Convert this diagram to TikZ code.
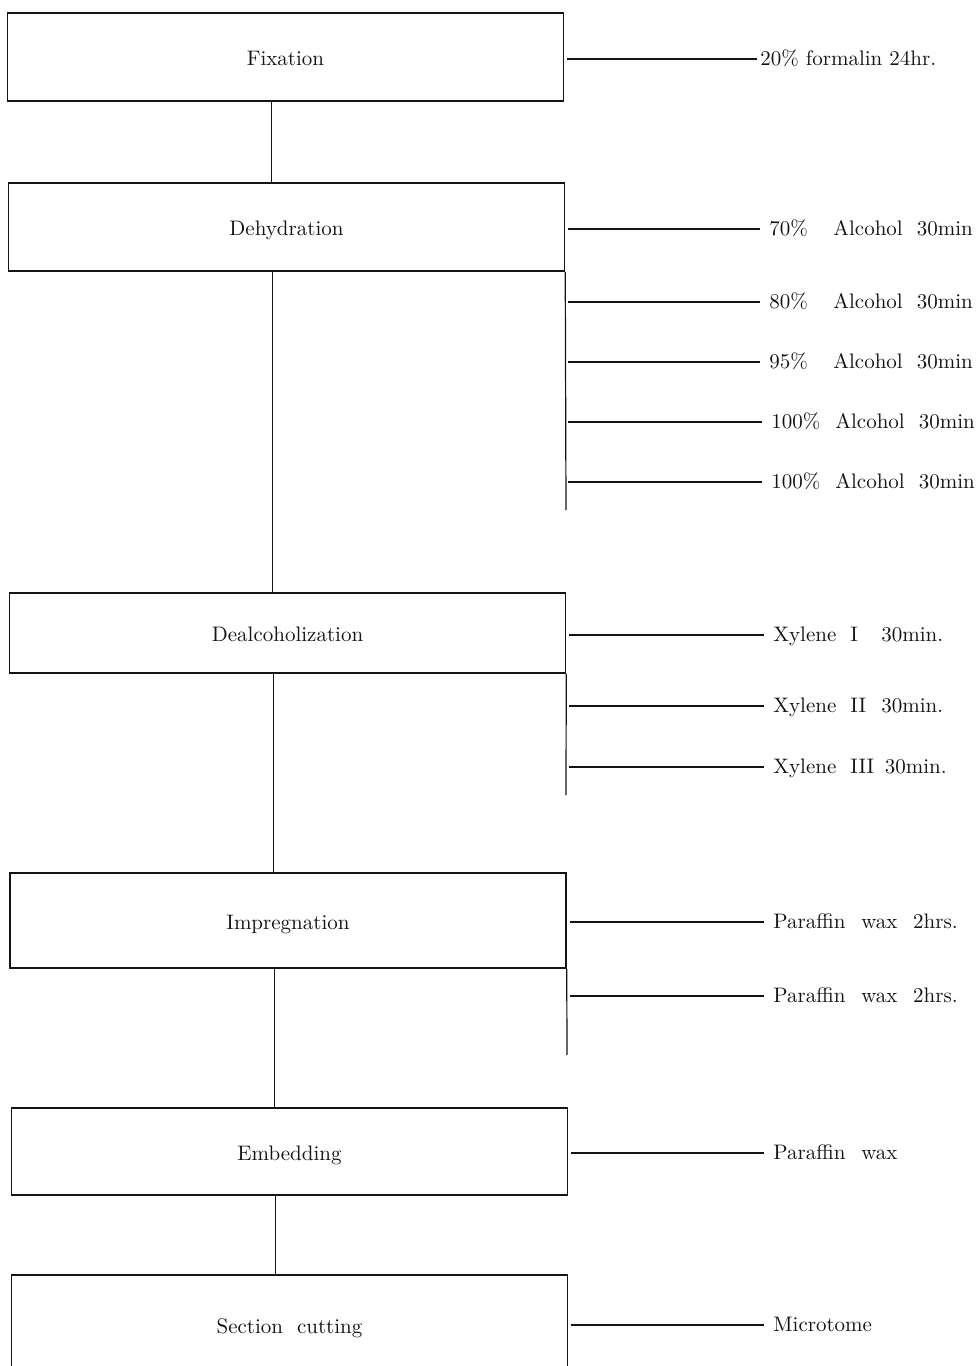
\documentclass[tikz,border=0pt]{standalone}
\usetikzlibrary{positioning,calc}
\definecolor{ink}{HTML}{141414}
\newcommand\pctcol[1]{\makebox[32pt][l]{#1}}
\newcommand\xylcol[1]{\makebox[15.5pt][l]{#1}}
\tikzset{
  stagebox/.style={draw=ink,line width=0.75pt,minimum width=278pt,
    font=\fontsize{10.5}{12}\selectfont,text=ink,inner sep=0pt,
    text height=2ex,text depth=0pt},
  reag/.style={anchor=west,font=\fontsize{10.5}{12}\selectfont,text=ink,
    inner xsep=4.5pt,inner ysep=0pt,text height=1.6ex,text depth=0pt},
  flow/.style={draw=ink,line width=0.5pt},
  branch/.style={draw=ink,line width=0.6pt,shorten <=1.5pt},
  rail/.style={draw=ink,line width=0.6pt}}
\begin{document}
\begin{tikzpicture}[x=0.5pt,y=-0.5pt]
\useasboundingbox (0,0) rectangle (979,1366);
% stages
\node[stagebox,minimum height=44pt] (fix) at (285.5,57) {Fixation};
\node[stagebox,minimum height=44pt] (dehyd) at (286.5,227) {Dehydration};
\node[stagebox,minimum height=40pt] (dealc) at (287.5,633) {Dealcoholization};
\node[stagebox,minimum height=47.5pt] (impreg) at (288,920.5) {Impregnation};
\node[stagebox,minimum height=43.5pt] (embed) at (289.5,1151.5) {Embedding};
\node[stagebox,minimum height=50pt] (cut) at (289.5,1325) {Section\ \ cutting};
\draw[flow] ([xshift=-7.25pt]fix.south) -- ([xshift=-7.25pt]fix.south |- dehyd.north);
\draw[flow] ([xshift=-7.25pt]dehyd.south) -- ([xshift=-7.25pt]dehyd.south |- dealc.north);
\draw[flow] ([xshift=-7.25pt]dealc.south) -- ([xshift=-7.25pt]dealc.south |- impreg.north);
\draw[flow] ([xshift=-7pt]impreg.south) -- ([xshift=-7pt]impreg.south |- embed.north);
\draw[flow] ([xshift=-7.25pt]embed.south) -- ([xshift=-7.25pt]embed.south |- cut.north);
% reagents
\node[reag,inner xsep=1.5pt] (r20) at (757,59) {20\%\ formalin\ 24hr.};
\node[reag] (a70) at (760,229) {\pctcol{70\%}Alcohol\ \ 30min};
\node[reag] (a80) at (760,302) {\pctcol{80\%}Alcohol\ \ 30min};
\node[reag] (a95) at (760,362) {\pctcol{95\%}Alcohol\ \ 30min};
\node[reag] (a100a) at (762,422) {\pctcol{100\%}Alcohol\ \ 30min};
\node[reag] (a100b) at (762,482) {\pctcol{100\%}Alcohol\ \ 30min};
\node[reag] (x1) at (764,635) {Xylene\ \ \xylcol{I}30min.};
\node[reag] (x2) at (764,706) {Xylene\ \ \xylcol{II}30min.};
\node[reag] (x3) at (764,767) {Xylene\ \ \xylcol{III}\,30min.};
\node[reag] (p1) at (764,922) {Paraffin\hspace{0.75em}wax\hspace{0.75em}2hrs.};
\node[reag] (p2) at (764,996) {Paraffin\hspace{0.75em}wax\hspace{0.75em}2hrs.};
\node[reag] (pw) at (764,1153) {Paraffin\hspace{0.75em}wax};
\node[reag] (mt) at (764,1325) {Microtome};
% rails on the right side
\coordinate (dehydEnd) at (566,510);
\coordinate (dealcEnd) at (566,795);
\coordinate (impregEnd) at (567,1055);
\draw[rail] (dehyd.south east) -- (dehydEnd);
\draw[rail] (dealc.south east) -- (dealcEnd);
\draw[rail] (impreg.south east) -- (impregEnd);
% branches
\draw[branch] (fix.east |- r20.west) -- (r20.west);
\draw[branch] (dehyd.east |- a70.west) -- (a70.west);
\draw[branch] (dehyd.east |- a80.west) -- (a80.west);
\draw[branch] (dehyd.east |- a95.west) -- (a95.west);
\draw[branch] (dehyd.east |- a100a.west) -- (a100a.west);
\draw[branch] (dehyd.east |- a100b.west) -- (a100b.west);
\draw[branch] (dealc.east |- x1.west) -- (x1.west);
\draw[branch] (dealc.east |- x2.west) -- (x2.west);
\draw[branch] (dealc.east |- x3.west) -- (x3.west);
\draw[branch] (impreg.east |- p1.west) -- (p1.west);
\draw[branch] (impreg.east |- p2.west) -- (p2.west);
\draw[branch] (embed.east |- pw.west) -- (pw.west);
\draw[branch] (cut.east |- mt.west) -- (mt.west);
\end{tikzpicture}
\end{document}
